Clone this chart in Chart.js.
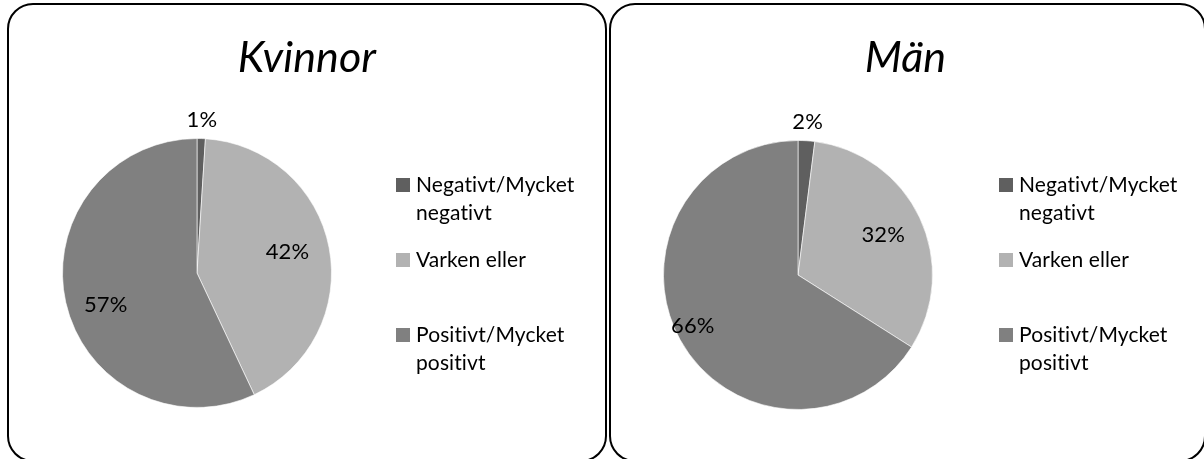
<!DOCTYPE html>
<html>
<head>
<meta charset="utf-8">
<script src="https://cdn.jsdelivr.net/npm/chart.js@4"></script>
<style>
  html, body { margin: 0; padding: 0; background: #fff; }
  body { width: 1204px; height: 459px; overflow: hidden; position: relative; }
  .panel {
    position: absolute; top: 3px; height: 459px;
    border: 2.5px solid #000; border-radius: 26px; box-sizing: border-box;
  }
  canvas { position: absolute; top: 0; }
</style>
</head>
<body>
<div class="panel" style="left:7px; width:600px;"></div>
<div class="panel" style="left:608.5px; width:597px;"></div>
<canvas id="kvinnor" width="607" height="459" style="left:0"></canvas>
<canvas id="man" width="597" height="459" style="left:607px"></canvas>
<script>
// categories (legend lines) and shares in percent
const categories = [['Negativt/Mycket', 'negativt'], ['Varken eller'], ['Positivt/Mycket', 'positivt']];
const kvinnorValues = [1, 42, 57];
const manValues = [2, 32, 66];
const sliceColors = ['#5f5f5f', '#b2b2b2', '#808080'];

const FONT = 'Lato, "Open Sans", sans-serif';

// draws title, percent labels and the legend on top of the pie
const panelText = {
  id: 'panelText',
  afterDraw(chart, args, opts) {
    const ctx = chart.ctx;
    const meta = chart.getDatasetMeta(0);
    const values = chart.data.datasets[0].data;
    ctx.save();
    ctx.fillStyle = '#000';
    ctx.letterSpacing = '0.1px'; // keeps Lato from joining "ti"

    // title
    ctx.font = 'italic 43px ' + FONT;
    ctx.textAlign = 'center';
    ctx.textBaseline = 'alphabetic';
    ctx.fillText(opts.title, opts.titleX, 72);

    // percent labels
    ctx.font = '22px ' + FONT;
    ctx.textBaseline = 'middle';
    meta.data.forEach((arc, i) => {
      const mid = (arc.startAngle + arc.endAngle) / 2 + opts.labelTurn[i];
      const r = arc.outerRadius * opts.labelRadius[i];
      ctx.fillText(values[i] + '%', arc.x + Math.cos(mid) * r, arc.y + Math.sin(mid) * r);
    });

    // legend
    ctx.font = '21px ' + FONT;
    ctx.textAlign = 'left';
    ctx.textBaseline = 'alphabetic';
    categories.forEach((lines, i) => {
      const base = opts.legendTop + i * 75;
      ctx.fillStyle = sliceColors[i];
      ctx.fillRect(opts.legendX, base - 14, 14, 14);
      ctx.fillStyle = '#000';
      lines.forEach((t, j) => ctx.fillText(t, opts.legendX + 20, base + j * 28));
    });
    ctx.restore();
  }
};

function makePie(id, values, title, titleX, padding, legendX, labelRadius, labelTurn) {
  return new Chart(document.getElementById(id), {
    type: 'pie',
    data: {
      labels: categories.map(l => l.join(' ')),
      datasets: [{
        data: values,
        backgroundColor: sliceColors,
        borderColor: 'rgba(255,255,255,0.6)',
        borderWidth: 1
      }]
    },
    options: {
      responsive: false,
      animation: false,
      layout: { padding: padding },
      plugins: {
        legend: { display: false },
        tooltip: { enabled: false },
        panelText: {
          title: title,
          titleX: titleX,
          legendX: legendX,
          legendTop: 192,
          labelRadius: labelRadius,
          labelTurn: labelTurn
        }
      }
    },
    plugins: [panelText]
  });
}

makePie('kvinnor', kvinnorValues, 'Kvinnor', 307,
  { left: 62, top: 138, right: 275, bottom: 51 }, 396, [1.14, 0.69, 0.72], [0, -0.04, -0.12]);
makePie('man', manValues, 'Män', 298.5,
  { left: 56, top: 140, right: 271, bottom: 49 }, 392, [1.14, 0.70, 0.87], [0, 0, 0.05]);
</script>
</body>
</html>
